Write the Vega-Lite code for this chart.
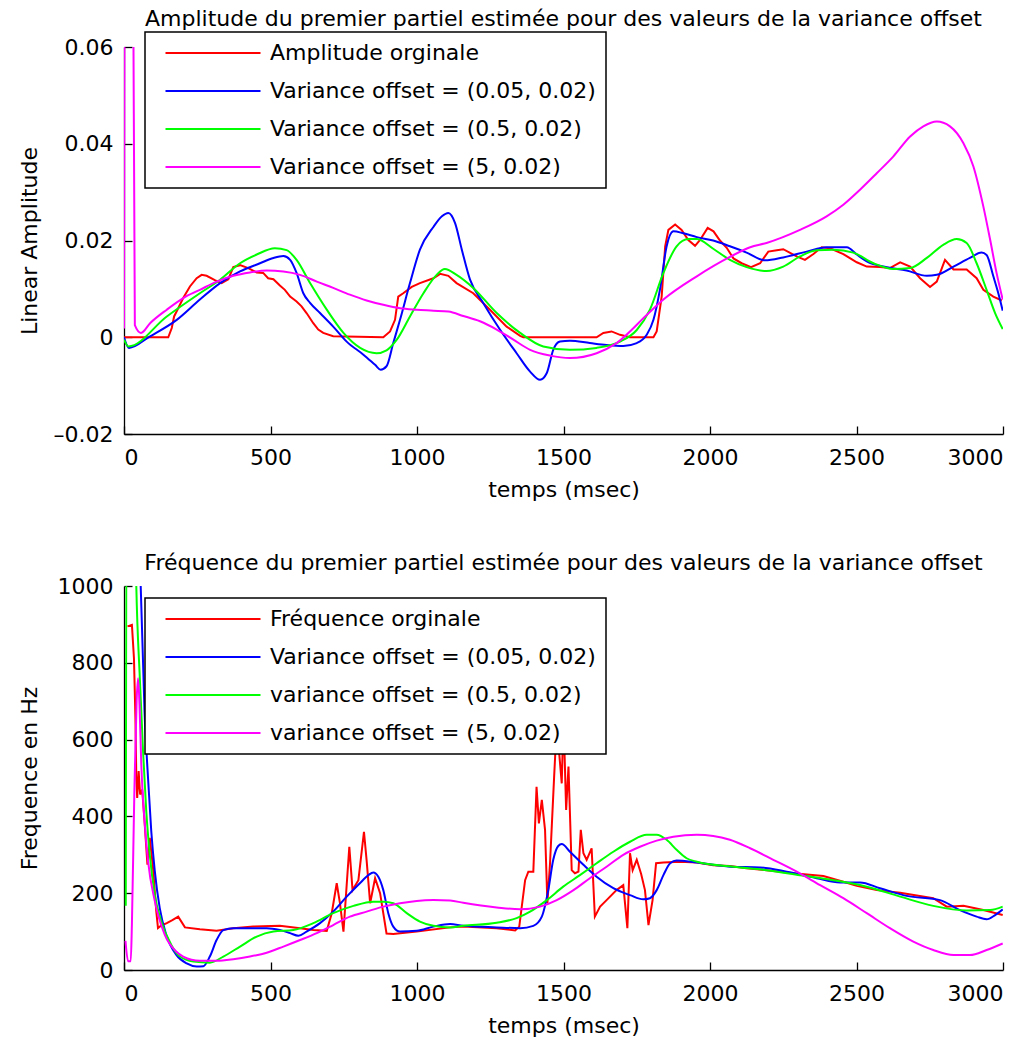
{
  "$schema": "https://vega.github.io/schema/vega-lite/v6.json",
  "background": "white",
  "padding": {"left": 18, "top": 8, "right": 10, "bottom": 5},
  "config": {
    "font": "DejaVu Sans",
    "view": {"stroke": null},
    "axis": {
      "domainColor": "black", "domainWidth": 1.3,
      "tickColor": "black", "tickWidth": 1.3, "tickSize": -8,
      "labelFont": "DejaVu Sans", "labelFontSize": 22, "labelColor": "black",
      "titleFont": "DejaVu Sans", "titleFontSize": 22, "titleColor": "black", "titleFontWeight": "normal",
      "grid": false
    },
    "title": {"font": "DejaVu Sans", "fontSize": 22, "fontWeight": "normal", "color": "black", "frame": "group", "anchor": "middle"},
    "legend": {
      "orient": "none", "strokeColor": "black", "strokeWidth": 1.5, "fillColor": "white",
      "padding": 10, "symbolType": "M-5,0H5", "symbolSize": 361, "symbolStrokeWidth": 1.2,
      "symbolOffset": 47, "labelOffset": 46, "labelFont": "DejaVu Sans", "labelFontSize": 22,
      "labelColor": "black", "labelLimit": 800, "rowPadding": 16
    },
    "concat": {"spacing": 52},
    "line": {"strokeWidth": 2, "clip": true}
  },
  "datasets": {
    "amp_orig": [
      {"t":0,"v":0},{"t":151,"v":0},{"t":163,"v":0.0019},{"t":171,"v":0.0043},{"t":185,"v":0.006},{"t":202,"v":0.0081},{"t":225,"v":0.0105},{"t":248,"v":0.0122},{"t":265,"v":0.0129},{"t":282,"v":0.0127},{"t":310,"v":0.0118},{"t":333,"v":0.0112},{"t":356,"v":0.012},{"t":373,"v":0.0145},{"t":396,"v":0.0149},{"t":424,"v":0.0143},{"t":453,"v":0.0134},{"t":475,"v":0.0133},{"t":492,"v":0.0122},{"t":510,"v":0.012},{"t":532,"v":0.0107},{"t":549,"v":0.0098},{"t":567,"v":0.0084},{"t":589,"v":0.0074},{"t":606,"v":0.0064},{"t":623,"v":0.005},{"t":646,"v":0.0029},{"t":663,"v":0.0016},{"t":680,"v":0.0009},{"t":714,"v":0.0002},{"t":885,"v":0},{"t":908,"v":0.0012},{"t":925,"v":0.0036},{"t":936,"v":0.0084},{"t":953,"v":0.0091},{"t":982,"v":0.0104},{"t":1010,"v":0.0112},{"t":1056,"v":0.0122},{"t":1079,"v":0.0131},{"t":1107,"v":0.0127},{"t":1135,"v":0.0112},{"t":1192,"v":0.0091},{"t":1249,"v":0.0057},{"t":1306,"v":0.0022},{"t":1352,"v":0.0003},{"t":1363,"v":0},{"t":1613,"v":0},{"t":1636,"v":0.0009},{"t":1664,"v":0.0012},{"t":1693,"v":0.0005},{"t":1727,"v":0},{"t":1807,"v":0},{"t":1818,"v":0.0012},{"t":1835,"v":0.0084},{"t":1847,"v":0.0188},{"t":1858,"v":0.0222},{"t":1881,"v":0.0233},{"t":1903,"v":0.0222},{"t":1926,"v":0.0201},{"t":1949,"v":0.0189},{"t":1966,"v":0.0201},{"t":1992,"v":0.0226},{"t":2012,"v":0.0219},{"t":2034,"v":0.02},{"t":2057,"v":0.0185},{"t":2080,"v":0.0163},{"t":2108,"v":0.0153},{"t":2140,"v":0.0145},{"t":2171,"v":0.0153},{"t":2199,"v":0.0177},{"t":2228,"v":0.018},{"t":2250,"v":0.0182},{"t":2296,"v":0.0167},{"t":2324,"v":0.016},{"t":2353,"v":0.0172},{"t":2381,"v":0.0186},{"t":2410,"v":0.0184},{"t":2455,"v":0.0172},{"t":2501,"v":0.0155},{"t":2535,"v":0.0146},{"t":2580,"v":0.0145},{"t":2614,"v":0.0143},{"t":2649,"v":0.0155},{"t":2683,"v":0.0146},{"t":2717,"v":0.0122},{"t":2751,"v":0.0104},{"t":2774,"v":0.0115},{"t":2802,"v":0.016},{"t":2831,"v":0.014},{"t":2876,"v":0.014},{"t":2910,"v":0.0122},{"t":2933,"v":0.0098},{"t":2967,"v":0.0084},{"t":2996,"v":0.0076}
    ],
    "amp_a": [
      {"t":0,"v":0},{"t":17,"v":-0.0022},{"t":89,"v":0.0002},{"t":180,"v":0.0036},{"t":259,"v":0.0078},{"t":328,"v":0.0112},{"t":396,"v":0.0136},{"t":464,"v":0.0153},{"t":510,"v":0.0164},{"t":544,"v":0.0168},{"t":567,"v":0.016},{"t":589,"v":0.0133},{"t":612,"v":0.0091},{"t":635,"v":0.0071},{"t":669,"v":0.005},{"t":714,"v":0.0022},{"t":760,"v":-0.0009},{"t":817,"v":-0.0036},{"t":857,"v":-0.0057},{"t":876,"v":-0.0067},{"t":896,"v":-0.006},{"t":919,"v":-0.0012},{"t":942,"v":0.0036},{"t":976,"v":0.0112},{"t":1010,"v":0.0181},{"t":1056,"v":0.0228},{"t":1085,"v":0.025},{"t":1107,"v":0.0257},{"t":1130,"v":0.0236},{"t":1153,"v":0.0181},{"t":1181,"v":0.0119},{"t":1226,"v":0.0071},{"t":1283,"v":0.0016},{"t":1340,"v":-0.0033},{"t":1386,"v":-0.0071},{"t":1420,"v":-0.0088},{"t":1443,"v":-0.0074},{"t":1465,"v":-0.0026},{"t":1488,"v":-0.0009},{"t":1522,"v":-0.0007},{"t":1590,"v":-0.0012},{"t":1647,"v":-0.0016},{"t":1704,"v":-0.0018},{"t":1750,"v":-0.0012},{"t":1784,"v":0.0005},{"t":1807,"v":0.0036},{"t":1829,"v":0.0098},{"t":1852,"v":0.0188},{"t":1875,"v":0.0219},{"t":1909,"v":0.0215},{"t":1955,"v":0.0207},{"t":2011,"v":0.02},{"t":2068,"v":0.0188},{"t":2125,"v":0.0175},{"t":2188,"v":0.0159},{"t":2250,"v":0.0165},{"t":2330,"v":0.0177},{"t":2398,"v":0.0186},{"t":2467,"v":0.0186},{"t":2501,"v":0.0171},{"t":2535,"v":0.0157},{"t":2603,"v":0.0145},{"t":2671,"v":0.0138},{"t":2740,"v":0.0127},{"t":2774,"v":0.0129},{"t":2831,"v":0.0146},{"t":2887,"v":0.0164},{"t":2927,"v":0.0175},{"t":2944,"v":0.017},{"t":2967,"v":0.0126},{"t":2984,"v":0.0091},{"t":2999,"v":0.0055}
    ],
    "amp_b": [
      {"t":0,"v":-0.0005},{"t":15,"v":-0.0019},{"t":146,"v":0.0043},{"t":259,"v":0.0091},{"t":328,"v":0.0119},{"t":396,"v":0.0153},{"t":453,"v":0.0171},{"t":515,"v":0.0184},{"t":555,"v":0.018},{"t":589,"v":0.016},{"t":635,"v":0.0112},{"t":692,"v":0.0057},{"t":749,"v":0.0009},{"t":806,"v":-0.0022},{"t":862,"v":-0.0033},{"t":896,"v":-0.0027},{"t":931,"v":-0.0005},{"t":976,"v":0.0043},{"t":1022,"v":0.0091},{"t":1067,"v":0.0129},{"t":1095,"v":0.0141},{"t":1135,"v":0.0129},{"t":1192,"v":0.0102},{"t":1272,"v":0.005},{"t":1352,"v":0.0009},{"t":1431,"v":-0.0019},{"t":1522,"v":-0.0026},{"t":1613,"v":-0.0022},{"t":1693,"v":-0.0009},{"t":1750,"v":0.0015},{"t":1795,"v":0.0057},{"t":1841,"v":0.0133},{"t":1886,"v":0.0188},{"t":1926,"v":0.0203},{"t":1955,"v":0.0203},{"t":2011,"v":0.0183},{"t":2068,"v":0.016},{"t":2125,"v":0.0145},{"t":2193,"v":0.0137},{"t":2250,"v":0.0146},{"t":2307,"v":0.0167},{"t":2364,"v":0.018},{"t":2421,"v":0.0181},{"t":2489,"v":0.0175},{"t":2558,"v":0.0153},{"t":2626,"v":0.0141},{"t":2683,"v":0.0143},{"t":2740,"v":0.0164},{"t":2796,"v":0.0191},{"t":2842,"v":0.0203},{"t":2876,"v":0.0195},{"t":2910,"v":0.0153},{"t":2944,"v":0.0098},{"t":2973,"v":0.005},{"t":2999,"v":0.0017}
    ],
    "amp_c": [
      {"t":0,"v":0.0018},{"t":3,"v":0.09},{"t":30,"v":0.09},{"t":37,"v":0.0025},{"t":58,"v":0.0009},{"t":89,"v":0.0029},{"t":146,"v":0.0057},{"t":202,"v":0.0081},{"t":259,"v":0.0098},{"t":316,"v":0.0115},{"t":373,"v":0.0127},{"t":430,"v":0.0134},{"t":487,"v":0.0138},{"t":544,"v":0.0136},{"t":601,"v":0.0129},{"t":658,"v":0.0115},{"t":714,"v":0.0102},{"t":771,"v":0.0088},{"t":828,"v":0.0076},{"t":885,"v":0.0067},{"t":942,"v":0.006},{"t":999,"v":0.0057},{"t":1056,"v":0.0055},{"t":1107,"v":0.0053},{"t":1158,"v":0.0044},{"t":1215,"v":0.0033},{"t":1272,"v":0.0016},{"t":1329,"v":-0.0005},{"t":1386,"v":-0.0026},{"t":1454,"v":-0.0038},{"t":1522,"v":-0.0043},{"t":1613,"v":-0.0033},{"t":1681,"v":-0.0012},{"t":1784,"v":0.0046},{"t":1841,"v":0.0078},{"t":1955,"v":0.0126},{"t":2068,"v":0.0166},{"t":2137,"v":0.0186},{"t":2193,"v":0.0195},{"t":2307,"v":0.0222},{"t":2398,"v":0.025},{"t":2455,"v":0.0274},{"t":2512,"v":0.0305},{"t":2569,"v":0.0339},{"t":2626,"v":0.0374},{"t":2683,"v":0.0415},{"t":2728,"v":0.0436},{"t":2774,"v":0.0446},{"t":2819,"v":0.0436},{"t":2865,"v":0.0401},{"t":2899,"v":0.0353},{"t":2933,"v":0.027},{"t":2956,"v":0.0202},{"t":2978,"v":0.0133},{"t":2999,"v":0.0078}
    ],
    "freq_orig": [
      {"t":12,"v":895},{"t":27,"v":899},{"t":34,"v":812},{"t":39,"v":656},{"t":42,"v":500},{"t":45,"v":448},{"t":50,"v":518},{"t":55,"v":457},{"t":62,"v":470},{"t":70,"v":388},{"t":80,"v":274},{"t":88,"v":344},{"t":99,"v":266},{"t":110,"v":154},{"t":116,"v":109},{"t":127,"v":116},{"t":146,"v":122},{"t":165,"v":130},{"t":185,"v":139},{"t":208,"v":111},{"t":259,"v":106},{"t":316,"v":102},{"t":373,"v":109},{"t":441,"v":113},{"t":532,"v":115},{"t":601,"v":109},{"t":646,"v":104},{"t":692,"v":102},{"t":709,"v":148},{"t":726,"v":226},{"t":737,"v":174},{"t":749,"v":100},{"t":769,"v":321},{"t":780,"v":208},{"t":800,"v":234},{"t":819,"v":360},{"t":828,"v":286},{"t":840,"v":174},{"t":857,"v":239},{"t":874,"v":200},{"t":896,"v":95},{"t":919,"v":94},{"t":999,"v":100},{"t":1113,"v":111},{"t":1158,"v":113},{"t":1272,"v":109},{"t":1335,"v":103},{"t":1349,"v":113},{"t":1369,"v":234},{"t":1380,"v":256},{"t":1397,"v":256},{"t":1408,"v":477},{"t":1416,"v":382},{"t":1426,"v":443},{"t":1437,"v":365},{"t":1445,"v":174},{"t":1454,"v":278},{"t":1468,"v":503},{"t":1477,"v":640},{"t":1488,"v":540},{"t":1494,"v":486},{"t":1500,"v":660},{"t":1509,"v":417},{"t":1517,"v":530},{"t":1528,"v":260},{"t":1539,"v":252},{"t":1551,"v":256},{"t":1559,"v":365},{"t":1568,"v":304},{"t":1579,"v":287},{"t":1596,"v":317},{"t":1607,"v":139},{"t":1625,"v":165},{"t":1647,"v":182},{"t":1681,"v":208},{"t":1704,"v":221},{"t":1718,"v":109},{"t":1727,"v":304},{"t":1736,"v":260},{"t":1750,"v":287},{"t":1765,"v":250},{"t":1778,"v":208},{"t":1790,"v":117},{"t":1804,"v":182},{"t":1816,"v":278},{"t":1841,"v":280},{"t":1898,"v":282},{"t":1955,"v":280},{"t":2011,"v":273},{"t":2068,"v":271},{"t":2125,"v":265},{"t":2193,"v":260},{"t":2284,"v":252},{"t":2387,"v":245},{"t":2455,"v":230},{"t":2501,"v":219},{"t":2569,"v":208},{"t":2649,"v":201},{"t":2762,"v":187},{"t":2808,"v":165},{"t":2865,"v":167},{"t":2933,"v":156},{"t":2999,"v":143}
    ],
    "freq_a": [
      {"t":0,"v":1400},{"t":40,"v":1150},{"t":57,"v":1000},{"t":70,"v":674},{"t":82,"v":500},{"t":93,"v":362},{"t":105,"v":258},{"t":122,"v":161},{"t":144,"v":92},{"t":178,"v":40},{"t":214,"v":17},{"t":248,"v":9},{"t":271,"v":10},{"t":293,"v":35},{"t":316,"v":78},{"t":339,"v":104},{"t":373,"v":109},{"t":430,"v":109},{"t":487,"v":109},{"t":532,"v":104},{"t":567,"v":96},{"t":595,"v":89},{"t":623,"v":100},{"t":669,"v":122},{"t":714,"v":152},{"t":760,"v":191},{"t":805,"v":226},{"t":834,"v":247},{"t":851,"v":254},{"t":868,"v":243},{"t":885,"v":208},{"t":902,"v":148},{"t":919,"v":113},{"t":942,"v":100},{"t":999,"v":102},{"t":1056,"v":113},{"t":1113,"v":120},{"t":1158,"v":115},{"t":1272,"v":111},{"t":1352,"v":109},{"t":1397,"v":115},{"t":1426,"v":139},{"t":1448,"v":208},{"t":1465,"v":287},{"t":1482,"v":323},{"t":1494,"v":328},{"t":1522,"v":308},{"t":1568,"v":274},{"t":1613,"v":243},{"t":1670,"v":213},{"t":1727,"v":195},{"t":1772,"v":184},{"t":1795,"v":187},{"t":1818,"v":208},{"t":1841,"v":247},{"t":1864,"v":278},{"t":1886,"v":285},{"t":1955,"v":280},{"t":2068,"v":269},{"t":2171,"v":267},{"t":2262,"v":256},{"t":2364,"v":239},{"t":2444,"v":228},{"t":2512,"v":228},{"t":2580,"v":213},{"t":2671,"v":193},{"t":2785,"v":182},{"t":2853,"v":156},{"t":2910,"v":139},{"t":2944,"v":132},{"t":2973,"v":143},{"t":2999,"v":158}
    ],
    "freq_b": [
      {"t":6,"v":167},{"t":9,"v":1300},{"t":35,"v":1300},{"t":42,"v":1000},{"t":54,"v":760},{"t":65,"v":570},{"t":76,"v":414},{"t":88,"v":300},{"t":105,"v":196},{"t":127,"v":127},{"t":161,"v":66},{"t":191,"v":35},{"t":237,"v":22},{"t":293,"v":19},{"t":339,"v":35},{"t":396,"v":61},{"t":453,"v":87},{"t":510,"v":100},{"t":578,"v":104},{"t":646,"v":122},{"t":714,"v":148},{"t":783,"v":167},{"t":851,"v":178},{"t":885,"v":178},{"t":919,"v":174},{"t":965,"v":148},{"t":1010,"v":126},{"t":1056,"v":115},{"t":1113,"v":111},{"t":1158,"v":115},{"t":1272,"v":123},{"t":1340,"v":135},{"t":1386,"v":152},{"t":1443,"v":182},{"t":1499,"v":217},{"t":1556,"v":247},{"t":1613,"v":278},{"t":1670,"v":308},{"t":1727,"v":334},{"t":1784,"v":352},{"t":1818,"v":352},{"t":1852,"v":339},{"t":1886,"v":313},{"t":1920,"v":291},{"t":1955,"v":282},{"t":2080,"v":269},{"t":2193,"v":260},{"t":2307,"v":247},{"t":2421,"v":234},{"t":2535,"v":217},{"t":2649,"v":191},{"t":2762,"v":167},{"t":2876,"v":155},{"t":2956,"v":156},{"t":2999,"v":165}
    ],
    "freq_c": [
      {"t":5,"v":76},{"t":14,"v":23},{"t":23,"v":23},{"t":27,"v":120},{"t":35,"v":450},{"t":43,"v":700},{"t":48,"v":760},{"t":53,"v":690},{"t":59,"v":535},{"t":70,"v":390},{"t":82,"v":284},{"t":105,"v":180},{"t":139,"v":92},{"t":178,"v":48},{"t":202,"v":35},{"t":259,"v":24},{"t":316,"v":24},{"t":373,"v":28},{"t":430,"v":35},{"t":487,"v":45},{"t":544,"v":61},{"t":601,"v":78},{"t":658,"v":96},{"t":714,"v":117},{"t":771,"v":139},{"t":828,"v":152},{"t":885,"v":165},{"t":942,"v":174},{"t":999,"v":180},{"t":1056,"v":182},{"t":1113,"v":181},{"t":1158,"v":175},{"t":1272,"v":163},{"t":1352,"v":158},{"t":1420,"v":165},{"t":1477,"v":182},{"t":1534,"v":208},{"t":1590,"v":239},{"t":1647,"v":269},{"t":1704,"v":300},{"t":1761,"v":321},{"t":1818,"v":337},{"t":1875,"v":347},{"t":1955,"v":352},{"t":2011,"v":349},{"t":2068,"v":339},{"t":2137,"v":317},{"t":2216,"v":287},{"t":2296,"v":256},{"t":2376,"v":221},{"t":2455,"v":187},{"t":2535,"v":148},{"t":2614,"v":109},{"t":2694,"v":74},{"t":2762,"v":52},{"t":2831,"v":39},{"t":2887,"v":39},{"t":2944,"v":52},{"t":2999,"v":69}
    ]
  },
  "vconcat": [
    {
      "width": 879,
      "height": 387,
      "title": {"text": "Amplitude du premier partiel estimée pour des valeurs de la variance offset", "offset": 0},
      "encoding": {
        "x": {"field": "t", "type": "quantitative", "scale": {"domain": [0, 3000], "nice": false},
              "axis": {"title": "temps (msec)", "values": [0, 500, 1000, 1500, 2000, 2500, 3000], "format": "d", "labelPadding": 21, "titlePadding": 11}},
        "y": {"field": "v", "type": "quantitative", "scale": {"domain": [-0.02, 0.06], "nice": false, "zero": false},
              "axis": {"title": "Linear Amplitude", "values": [-0.02, 0, 0.02, 0.04, 0.06], "format": ".2~f",
                       "labelExpr": "replace(datum.label, '−', '–')", "labelPadding": 19, "titlePadding": 12}}
      },
      "layer": [
        {"data": {"name": "amp_orig"}, "mark": {"type": "line", "clip": true},
         "encoding": {"color": {"datum": "Amplitude orginale", "type": "nominal",
           "scale": {"domain": ["Amplitude orginale", "Variance offset = (0.05, 0.02)", "Variance offset = (0.5, 0.02)", "Variance offset = (5, 0.02)"],
                     "range": ["#ff0000", "#0000ff", "#00ff00", "#ff00ff"]},
           "legend": {"title": null, "legendX": 21, "legendY": -15}}}},
        {"data": {"name": "amp_a"}, "mark": {"type": "line", "interpolate": "monotone", "clip": true},
         "encoding": {"color": {"datum": "Variance offset = (0.05, 0.02)", "type": "nominal"}}},
        {"data": {"name": "amp_b"}, "mark": {"type": "line", "interpolate": "monotone", "clip": true},
         "encoding": {"color": {"datum": "Variance offset = (0.5, 0.02)", "type": "nominal"}}},
        {"data": {"name": "amp_c"}, "mark": {"type": "line", "interpolate": "monotone", "clip": true},
         "encoding": {"color": {"datum": "Variance offset = (5, 0.02)", "type": "nominal"}}}
      ]
    },
    {
      "width": 879,
      "height": 384,
      "title": {"text": "Fréquence du premier partiel estimée pour des valeurs de la variance offset", "offset": 0},
      "encoding": {
        "x": {"field": "t", "type": "quantitative", "scale": {"domain": [0, 3000], "nice": false},
              "axis": {"title": "temps (msec)", "values": [0, 500, 1000, 1500, 2000, 2500, 3000], "format": "d", "labelPadding": 21, "titlePadding": 11}},
        "y": {"field": "v", "type": "quantitative", "scale": {"domain": [0, 1000], "nice": false},
              "axis": {"title": "Frequence en Hz", "values": [0, 200, 400, 600, 800, 1000], "format": "d", "labelPadding": 19, "titlePadding": 16}}
      },
      "layer": [
        {"data": {"name": "freq_orig"}, "mark": {"type": "line", "clip": true},
         "encoding": {"color": {"datum": "Fréquence orginale", "type": "nominal",
           "scale": {"domain": ["Fréquence orginale", "Variance offset = (0.05, 0.02)", "variance offset = (0.5, 0.02)", "variance offset = (5, 0.02)"],
                     "range": ["#ff0000", "#0000ff", "#00ff00", "#ff00ff"]},
           "legend": {"title": null, "legendX": 21, "legendY": 12}}}},
        {"data": {"name": "freq_a"}, "mark": {"type": "line", "interpolate": "monotone", "clip": true},
         "encoding": {"color": {"datum": "Variance offset = (0.05, 0.02)", "type": "nominal"}}},
        {"data": {"name": "freq_b"}, "mark": {"type": "line", "interpolate": "monotone", "clip": true},
         "encoding": {"color": {"datum": "variance offset = (0.5, 0.02)", "type": "nominal"}}},
        {"data": {"name": "freq_c"}, "mark": {"type": "line", "interpolate": "monotone", "clip": true},
         "encoding": {"color": {"datum": "variance offset = (5, 0.02)", "type": "nominal"}}}
      ]
    }
  ],
  "resolve": {"scale": {"color": "independent"}, "legend": {"color": "independent"}}
}
